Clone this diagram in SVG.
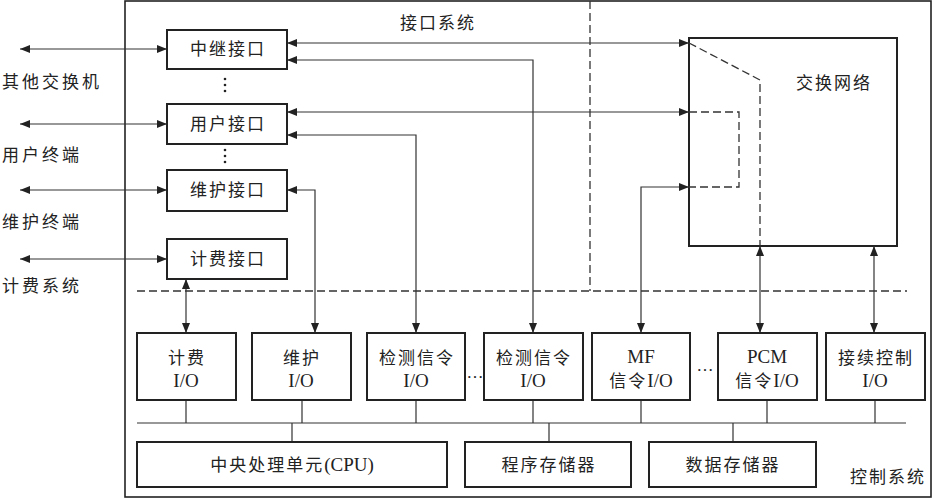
<svg xmlns="http://www.w3.org/2000/svg" width="934" height="500" viewBox="0 0 934 500">
<defs>
<marker id="ah" viewBox="0 0 10 8" refX="10" refY="4" markerWidth="10" markerHeight="8" markerUnits="userSpaceOnUse" orient="auto-start-reverse">
<path d="M0,0 L10,4 L0,8 Z" fill="#222"/>
</marker>
<style>
.box{fill:#fff;stroke:#222;stroke-width:2}
.frame{fill:none;stroke:#222;stroke-width:1.6}
.ln{fill:none;stroke:#333;stroke-width:1.2}
.arr{fill:none;stroke:#333;stroke-width:1.2;marker-start:url(#ah);marker-end:url(#ah)}
.dash{fill:none;stroke:#333;stroke-width:1.3;stroke-dasharray:8 4}
text{font-family:"Liberation Serif","Noto Sans CJK SC",serif;font-size:17px;fill:#222;text-anchor:middle}
.cn{letter-spacing:2px}
.lt{font-size:19px}
.lbl{text-anchor:start;letter-spacing:3px}
</style>
</defs>
<rect x="0" y="0" width="934" height="500" fill="#fff"/>
<rect class="frame" x="125" y="1" width="806" height="496"/>
<text class="cn" x="438" y="29">接口系统</text>
<text class="cn" x="888" y="483">控制系统</text>

<g id="switch"><rect x="689" y="38" width="208" height="208" style="fill:#fff;stroke:#222;stroke-width:2"/><text class="cn" x="834" y="89">交换网络</text></g>

<g id="connectors">
<line class="dash" x1="590" y1="1" x2="590" y2="291"/>
<line class="dash" x1="137" y1="291" x2="907" y2="291"/>
<path class="dash" d="M689,43 L760,80 V246"/>
<path class="dash" d="M689,112 H739 V187 H689"/>
<line class="arr" x1="20" y1="49" x2="167" y2="49"/>
<line class="arr" x1="20" y1="124" x2="167" y2="124"/>
<line class="arr" x1="20" y1="190" x2="167" y2="190"/>
<line class="arr" x1="20" y1="259" x2="167" y2="259"/>
<line class="arr" x1="287" y1="43" x2="689" y2="43"/>
<path class="arr" d="M287,60 H533 V333"/>
<line class="arr" x1="287" y1="112" x2="689" y2="112"/>
<path class="arr" d="M287,135 H416 V333"/>
<path class="arr" d="M287,190 H315 V333"/>
<line class="arr" x1="186" y1="279" x2="186" y2="333"/>
<path class="arr" d="M689,187 H641 V333"/>
<line class="arr" x1="760" y1="246" x2="760" y2="333"/>
<line class="arr" x1="874" y1="246" x2="874" y2="333"/>
<line class="ln" x1="137" y1="423" x2="906" y2="423"/>
<path class="ln" d="M186,400 V423 M302,400 V423 M416,400 V423 M533,400 V423 M641,400 V423 M767,400 V423 M875,400 V423"/>
<path class="ln" d="M292,423 V442 M549,423 V442 M733,423 V442"/>
</g>

<g id="labels-left">
<text class="lbl" x="2" y="88">其他交换机</text>
<text class="lbl" x="2" y="161">用户终端</text>
<text class="lbl" x="2" y="228">维护终端</text>
<text class="lbl" x="2" y="292">计费系统</text>
</g>

<g id="dots">
<circle cx="225" cy="79" r="1.3" fill="#222"/><circle cx="225" cy="85" r="1.3" fill="#222"/><circle cx="225" cy="91" r="1.3" fill="#222"/>
<circle cx="225" cy="150" r="1.3" fill="#222"/><circle cx="225" cy="156" r="1.3" fill="#222"/><circle cx="225" cy="162" r="1.3" fill="#222"/>
<text x="475" y="378">…</text>
<text x="705" y="371">…</text>
</g>

<g id="trunk-if"><rect class="box" x="167" y="30" width="120" height="39"/><text class="cn" x="228" y="55">中继接口</text></g>
<g id="user-if"><rect class="box" x="167" y="104" width="120" height="40"/><text class="cn" x="228" y="130">用户接口</text></g>
<g id="maint-if"><rect class="box" x="167" y="170" width="120" height="41"/><text class="cn" x="228" y="196">维护接口</text></g>
<g id="bill-if"><rect class="box" x="167" y="239" width="120" height="40"/><text class="cn" x="228" y="265">计费接口</text></g>

<g id="io-bill"><rect class="box" x="137" y="333" width="99" height="67"/><text class="cn" x="187" y="364">计费</text><text class="lt" x="186" y="387">I/O</text></g>
<g id="io-maint"><rect class="box" x="252" y="333" width="99" height="67"/><text class="cn" x="302" y="364">维护</text><text class="lt" x="301" y="387">I/O</text></g>
<g id="io-det1"><rect class="box" x="367" y="333" width="98" height="67"/><text class="cn" x="417" y="364">检测信令</text><text class="lt" x="416" y="387">I/O</text></g>
<g id="io-det2"><rect class="box" x="484" y="333" width="99" height="67"/><text class="cn" x="534" y="364">检测信令</text><text class="lt" x="533" y="387">I/O</text></g>
<g id="io-mf"><rect class="box" x="592" y="333" width="98" height="67"/><text class="lt" x="641" y="363">MF</text><text x="641" y="387"><tspan class="cn">信令</tspan><tspan class="lt">I/O</tspan></text></g>
<g id="io-pcm"><rect class="box" x="718" y="333" width="99" height="67"/><text class="lt" x="767" y="363">PCM</text><text x="767" y="387"><tspan class="cn">信令</tspan><tspan class="lt">I/O</tspan></text></g>
<g id="io-conn"><rect class="box" x="826" y="333" width="99" height="67"/><text class="cn" x="876" y="364">接续控制</text><text class="lt" x="875" y="387">I/O</text></g>

<g id="cpu"><rect class="box" x="137" y="442" width="310" height="45"/><text x="292" y="471"><tspan class="cn">中央处理单元</tspan><tspan class="lt">(CPU)</tspan></text></g>
<g id="prog-mem"><rect class="box" x="465" y="442" width="166" height="45"/><text class="cn" x="549" y="471">程序存储器</text></g>
<g id="data-mem"><rect class="box" x="649" y="442" width="167" height="45"/><text class="cn" x="733" y="471">数据存储器</text></g>
</svg>
